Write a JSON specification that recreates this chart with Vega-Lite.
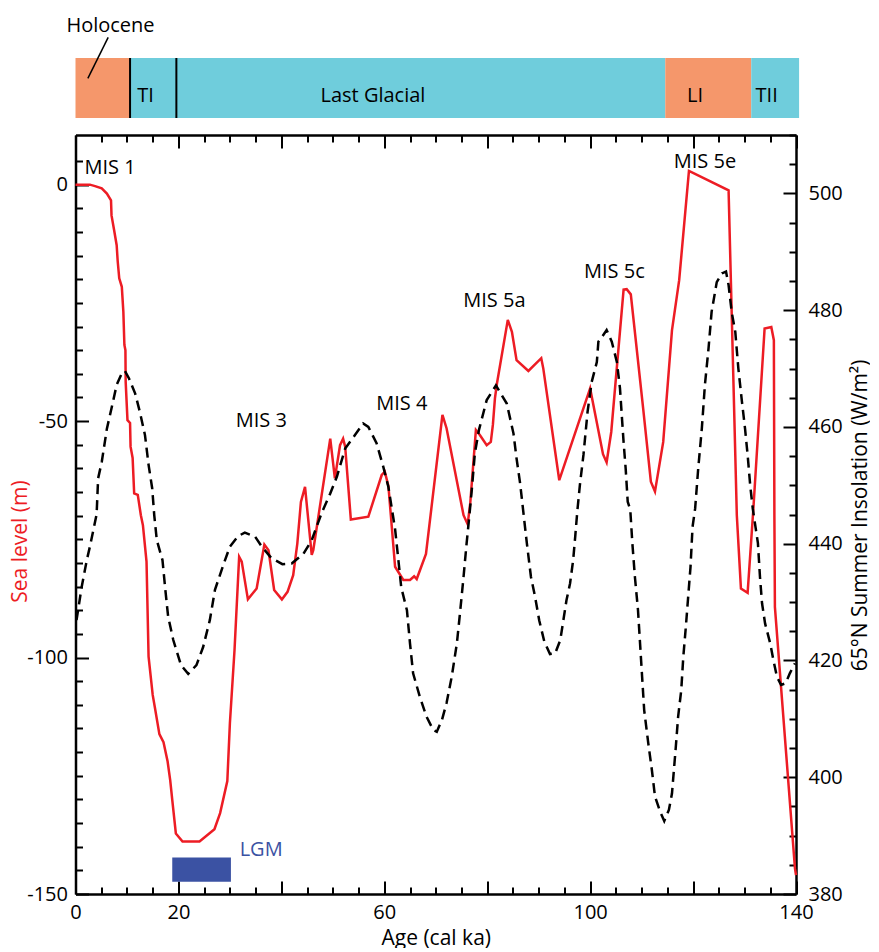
{
  "$schema": "https://vega.github.io/schema/vega-lite/v6.json",
  "padding": {"left": 8.5, "top": 10, "right": 0, "bottom": 0},
  "background": "white",
  "config": {
    "font": "Open Sans",
    "view": {"stroke": null},
    "axis": {"labelFont": "Open Sans", "titleFont": "Open Sans", "labelFontSize": 20, "titleFontSize": 21, "titleFontWeight": "normal", "labelColor": "black", "titleColor": "black", "domainColor": "black", "tickColor": "black", "domainWidth": 2.5, "tickWidth": 2, "grid": false, "labelOverlap": false, "labelFlush": false}
  },
  "bounds": "flush",
  "spacing": 17,
  "datasets": {
    "periods": [
      {"period": "Holocene", "start": 0, "end": 10.6, "phase": "warm"},
      {"period": "TI", "start": 10.6, "end": 19.6, "phase": "cold"},
      {"period": "Last Glacial", "start": 19.6, "end": 114.6, "phase": "cold"},
      {"period": "LI", "start": 114.6, "end": 131.3, "phase": "warm"},
      {"period": "TII", "start": 131.3, "end": 140.6, "phase": "cold"}
    ],
    "periodLabels": [
      {"label": "TI", "age": 13.6},
      {"label": "Last Glacial", "age": 57.8},
      {"label": "LI", "age": 120.4},
      {"label": "TII", "age": 134.3}
    ],
    "boundaries": [{"age": 10.6}, {"age": 19.6}],
    "sea": [
      {"age": 0.0, "sea": 0}, {"age": 2.8, "sea": 0}, {"age": 3.8, "sea": -0.3}, {"age": 5.1, "sea": -0.8},
      {"age": 6.1, "sea": -1.9}, {"age": 6.9, "sea": -3.3}, {"age": 7.0, "sea": -6.5}, {"age": 7.5, "sea": -9.6},
      {"age": 8.0, "sea": -12.8}, {"age": 8.2, "sea": -16.2}, {"age": 8.5, "sea": -19.8}, {"age": 9.0, "sea": -21.6},
      {"age": 9.3, "sea": -26.9}, {"age": 9.5, "sea": -33.9}, {"age": 9.7, "sea": -35.0}, {"age": 9.75, "sea": -41.7},
      {"age": 10.1, "sea": -49.8}, {"age": 10.6, "sea": -50.4}, {"age": 10.7, "sea": -55.4}, {"age": 11.1, "sea": -57.8},
      {"age": 11.4, "sea": -65.3}, {"age": 12.1, "sea": -65.6}, {"age": 12.7, "sea": -69.9}, {"age": 13.1, "sea": -72.0},
      {"age": 13.8, "sea": -79.7}, {"age": 14.2, "sea": -99.8}, {"age": 15.0, "sea": -107.9}, {"age": 15.4, "sea": -110.4},
      {"age": 16.3, "sea": -116.2}, {"age": 17.1, "sea": -117.9}, {"age": 17.9, "sea": -122.0}, {"age": 18.4, "sea": -125.9},
      {"age": 18.8, "sea": -130.1}, {"age": 19.5, "sea": -137.2}, {"age": 20.8, "sea": -138.9}, {"age": 24.1, "sea": -138.9},
      {"age": 27.0, "sea": -136.3}, {"age": 28.1, "sea": -132.9}, {"age": 29.5, "sea": -126.1}, {"age": 30.0, "sea": -113.9},
      {"age": 30.9, "sea": -98.4}, {"age": 31.8, "sea": -78.7}, {"age": 32.3, "sea": -79.7}, {"age": 33.5, "sea": -87.7},
      {"age": 35.2, "sea": -85.4}, {"age": 36.7, "sea": -76.1}, {"age": 37.5, "sea": -77.3}, {"age": 38.6, "sea": -85.7},
      {"age": 40.1, "sea": -87.7}, {"age": 41.2, "sea": -86.1}, {"age": 42.3, "sea": -82.6}, {"age": 43.1, "sea": -75.9},
      {"age": 43.8, "sea": -67.1}, {"age": 44.6, "sea": -63.9}, {"age": 45.9, "sea": -78.3}, {"age": 46.2, "sea": -77.3},
      {"age": 49.5, "sea": -53.7}, {"age": 50.4, "sea": -62.1}, {"age": 51.4, "sea": -55.1}, {"age": 52.0, "sea": -53.7},
      {"age": 52.4, "sea": -55.4}, {"age": 53.5, "sea": -70.8}, {"age": 56.9, "sea": -70.2}, {"age": 59.5, "sea": -61.4},
      {"age": 60.1, "sea": -60.7}, {"age": 60.8, "sea": -63.7}, {"age": 62.1, "sea": -80.8}, {"age": 63.7, "sea": -83.6},
      {"age": 65.0, "sea": -83.6}, {"age": 65.8, "sea": -82.8}, {"age": 66.3, "sea": -83.4}, {"age": 68.1, "sea": -78.1},
      {"age": 71.3, "sea": -48.7}, {"age": 72.1, "sea": -51.5}, {"age": 75.4, "sea": -69.9}, {"age": 76.2, "sea": -71.8},
      {"age": 76.7, "sea": -67.4}, {"age": 77.8, "sea": -51.9}, {"age": 78.6, "sea": -53.0}, {"age": 79.9, "sea": -55.1},
      {"age": 80.7, "sea": -54.4}, {"age": 81.1, "sea": -50.8}, {"age": 81.5, "sea": -45.2}, {"age": 81.9, "sea": -42.0},
      {"age": 84.0, "sea": -28.6}, {"age": 84.8, "sea": -31.1}, {"age": 85.7, "sea": -37.1}, {"age": 88.0, "sea": -39.4},
      {"age": 90.5, "sea": -36.7}, {"age": 90.9, "sea": -38.9}, {"age": 94.0, "sea": -62.5}, {"age": 100.0, "sea": -43.1},
      {"age": 102.5, "sea": -57.0}, {"age": 103.2, "sea": -58.7}, {"age": 104.1, "sea": -52.3}, {"age": 106.5, "sea": -22.2},
      {"age": 107.1, "sea": -22.1}, {"age": 107.9, "sea": -23.2}, {"age": 110.3, "sea": -47.3}, {"age": 111.8, "sea": -62.8},
      {"age": 112.6, "sea": -64.9}, {"age": 114.2, "sea": -54.4}, {"age": 115.9, "sea": -30.8}, {"age": 117.3, "sea": -20.2},
      {"age": 119.2, "sea": 2.9}, {"age": 126.9, "sea": -1.2}, {"age": 128.5, "sea": -69.9}, {"age": 129.3, "sea": -85.4},
      {"age": 130.6, "sea": -86.3}, {"age": 131.7, "sea": -68.8}, {"age": 133.9, "sea": -30.4}, {"age": 135.2, "sea": -30.1},
      {"age": 135.7, "sea": -32.9}, {"age": 135.8, "sea": -69.9}, {"age": 135.9, "sea": -89.3}, {"age": 139.8, "sea": -144.6},
      {"age": 140.0, "sea": -146.0}
    ],
    "insolation": [
      {"age": 0.2, "ins": 426.9}, {"age": 1.2, "ins": 432.6}, {"age": 2.2, "ins": 437.2}, {"age": 2.8, "ins": 439.5},
      {"age": 4.1, "ins": 445.0}, {"age": 4.4, "ins": 451.2}, {"age": 5.1, "ins": 454.0}, {"age": 6.1, "ins": 459.7},
      {"age": 7.0, "ins": 463.2}, {"age": 8.0, "ins": 467.2}, {"age": 9.0, "ins": 469.2}, {"age": 9.6, "ins": 469.6},
      {"age": 10.4, "ins": 468.3}, {"age": 11.6, "ins": 465.7}, {"age": 12.5, "ins": 462.6}, {"age": 13.5, "ins": 458.6},
      {"age": 14.2, "ins": 453.5}, {"age": 14.9, "ins": 449.5}, {"age": 15.3, "ins": 444.9}, {"age": 15.8, "ins": 440.6},
      {"age": 16.9, "ins": 437.2}, {"age": 17.4, "ins": 432.6}, {"age": 18.0, "ins": 427.5}, {"age": 19.0, "ins": 423.5},
      {"age": 20.5, "ins": 419.2}, {"age": 21.9, "ins": 417.7}, {"age": 23.5, "ins": 419.2}, {"age": 24.8, "ins": 422.3},
      {"age": 26.1, "ins": 426.9}, {"age": 27.1, "ins": 432.1}, {"age": 28.7, "ins": 436.3}, {"age": 30.0, "ins": 439.5},
      {"age": 31.6, "ins": 441.3}, {"age": 32.9, "ins": 441.9}, {"age": 34.9, "ins": 441.2}, {"age": 36.2, "ins": 439.5},
      {"age": 38.1, "ins": 437.5}, {"age": 40.2, "ins": 436.5}, {"age": 42.0, "ins": 436.6}, {"age": 44.3, "ins": 438.3},
      {"age": 45.9, "ins": 440.6}, {"age": 47.8, "ins": 445.2}, {"age": 49.5, "ins": 448.6}, {"age": 50.8, "ins": 451.5},
      {"age": 52.4, "ins": 456.3}, {"age": 54.3, "ins": 458.6}, {"age": 55.9, "ins": 460.6}, {"age": 56.9, "ins": 460.0},
      {"age": 58.5, "ins": 457.2}, {"age": 59.8, "ins": 453.2}, {"age": 60.8, "ins": 449.7}, {"age": 62.1, "ins": 442.5},
      {"age": 63.3, "ins": 432.5}, {"age": 64.4, "ins": 428.6}, {"age": 65.0, "ins": 422.9}, {"age": 65.6, "ins": 417.8},
      {"age": 66.9, "ins": 413.8}, {"age": 68.2, "ins": 410.4}, {"age": 69.5, "ins": 408.1}, {"age": 70.2, "ins": 407.8},
      {"age": 71.2, "ins": 409.8}, {"age": 72.1, "ins": 412.7}, {"age": 73.1, "ins": 417.2}, {"age": 74.1, "ins": 422.9},
      {"age": 74.7, "ins": 428.0}, {"age": 75.4, "ins": 434.3}, {"age": 76.0, "ins": 440.1}, {"age": 76.5, "ins": 444.5},
      {"age": 77.0, "ins": 449.2}, {"age": 77.6, "ins": 455.5}, {"age": 78.4, "ins": 459.5}, {"age": 79.9, "ins": 464.6},
      {"age": 81.7, "ins": 467.1}, {"age": 83.8, "ins": 464.0}, {"age": 85.1, "ins": 458.9}, {"age": 85.7, "ins": 454.6},
      {"age": 86.4, "ins": 450.3}, {"age": 87.2, "ins": 444.0}, {"age": 87.7, "ins": 440.1}, {"age": 88.5, "ins": 434.3},
      {"age": 89.3, "ins": 430.9}, {"age": 90.1, "ins": 426.9}, {"age": 91.1, "ins": 423.2}, {"age": 92.2, "ins": 421.1},
      {"age": 93.2, "ins": 421.2}, {"age": 94.2, "ins": 423.5}, {"age": 94.8, "ins": 426.9}, {"age": 95.4, "ins": 430.3},
      {"age": 96.1, "ins": 433.2}, {"age": 96.7, "ins": 437.2}, {"age": 97.1, "ins": 441.2}, {"age": 97.5, "ins": 445.5},
      {"age": 98.0, "ins": 450.0}, {"age": 98.7, "ins": 455.2}, {"age": 99.5, "ins": 462.6}, {"age": 100.3, "ins": 467.7},
      {"age": 101.3, "ins": 471.1}, {"age": 101.6, "ins": 474.6}, {"age": 102.3, "ins": 475.4}, {"age": 103.2, "ins": 476.6},
      {"age": 104.2, "ins": 474.6}, {"age": 105.2, "ins": 471.1}, {"age": 105.8, "ins": 466.6}, {"age": 106.1, "ins": 462.6},
      {"age": 106.5, "ins": 457.4}, {"age": 106.9, "ins": 452.9}, {"age": 107.3, "ins": 447.2}, {"age": 107.8, "ins": 445.8},
      {"age": 108.2, "ins": 440.1}, {"age": 108.7, "ins": 434.3}, {"age": 109.3, "ins": 428.6}, {"age": 109.7, "ins": 422.9},
      {"age": 110.1, "ins": 417.2}, {"age": 110.5, "ins": 411.5}, {"age": 111.3, "ins": 405.8}, {"age": 112.0, "ins": 401.2},
      {"age": 112.6, "ins": 396.7}, {"age": 113.6, "ins": 394.1}, {"age": 114.4, "ins": 392.5}, {"age": 115.3, "ins": 394.4},
      {"age": 115.9, "ins": 397.2}, {"age": 116.6, "ins": 404.7}, {"age": 117.1, "ins": 410.4}, {"age": 117.7, "ins": 414.9},
      {"age": 118.1, "ins": 420.6}, {"age": 118.6, "ins": 425.8}, {"age": 119.1, "ins": 431.5}, {"age": 119.5, "ins": 436.0},
      {"age": 119.9, "ins": 442.9}, {"age": 120.4, "ins": 446.0}, {"age": 121.0, "ins": 452.9}, {"age": 121.7, "ins": 459.7},
      {"age": 122.3, "ins": 467.2}, {"age": 123.0, "ins": 473.4}, {"age": 123.6, "ins": 479.7}, {"age": 124.6, "ins": 484.8},
      {"age": 125.6, "ins": 486.3}, {"age": 126.4, "ins": 486.6}, {"age": 126.9, "ins": 484.3}, {"age": 127.5, "ins": 479.7},
      {"age": 128.2, "ins": 476.3}, {"age": 128.8, "ins": 470.0}, {"age": 129.5, "ins": 464.3}, {"age": 130.1, "ins": 459.7},
      {"age": 130.6, "ins": 455.2}, {"age": 131.1, "ins": 450.0}, {"age": 131.6, "ins": 446.0}, {"age": 132.6, "ins": 440.1},
      {"age": 133.0, "ins": 434.3}, {"age": 133.4, "ins": 429.8}, {"age": 134.0, "ins": 426.3}, {"age": 135.0, "ins": 422.9},
      {"age": 135.6, "ins": 420.1}, {"age": 136.3, "ins": 417.2}, {"age": 137.1, "ins": 415.8}, {"age": 138.0, "ins": 416.1},
      {"age": 138.8, "ins": 417.8}, {"age": 139.8, "ins": 419.5}
    ],
    "mis": [
      {"label": "MIS 1", "age": 6.7, "sea": 2.2},
      {"label": "MIS 3", "age": 36.1, "sea": -51.2},
      {"label": "MIS 4", "age": 63.4, "sea": -47.7},
      {"label": "MIS 5a", "age": 81.4, "sea": -25.8},
      {"label": "MIS 5c", "age": 104.7, "sea": -19.8},
      {"label": "MIS 5e", "age": 122.3, "sea": 3.6}
    ],
    "lgm": [{"label": "LGM", "start": 18.8, "end": 30.2, "top": -142.3, "bottom": -147.4, "labelAge": 31.9, "labelSea": -142.0}]
  },
  "vconcat": [
    {
      "width": 720.5,
      "height": 108,
      "layer": [
        {
          "data": {"name": "periods"},
          "mark": {"type": "rect"},
          "encoding": {
            "x": {"field": "start", "type": "quantitative", "scale": {"domain": [0, 140], "nice": false, "zero": false}, "axis": null},
            "x2": {"field": "end"},
            "y": {"datum": 0, "type": "quantitative", "scale": {"domain": [0, 1.8], "nice": false}, "axis": null},
            "y2": {"datum": 1},
            "color": {"field": "phase", "type": "nominal", "scale": {"domain": ["warm", "cold"], "range": ["#F5976B", "#6FCDDC"]}, "legend": null}
          }
        },
        {
          "data": {"name": "boundaries"},
          "mark": {"type": "rule", "color": "black", "strokeWidth": 2},
          "encoding": {
            "x": {"field": "age", "type": "quantitative", "scale": {"domain": [0, 140], "nice": false, "zero": false}, "axis": null},
            "y": {"datum": 0, "type": "quantitative", "scale": {"domain": [0, 1.8], "nice": false}, "axis": null},
            "y2": {"datum": 1}
          }
        },
        {
          "data": {"name": "periodLabels"},
          "mark": {"type": "text", "fontSize": 20, "baseline": "alphabetic", "align": "center", "color": "black"},
          "encoding": {
            "x": {"field": "age", "type": "quantitative", "scale": {"domain": [0, 140], "nice": false, "zero": false}, "axis": null},
            "y": {"datum": 0.267, "type": "quantitative", "scale": {"domain": [0, 1.8], "nice": false}, "axis": null},
            "text": {"field": "label"}
          }
        },
        {
          "data": {"values": [{"label": "Holocene", "age": 6.8}]},
          "mark": {"type": "text", "fontSize": 20, "baseline": "alphabetic", "align": "center", "color": "black"},
          "encoding": {
            "x": {"field": "age", "type": "quantitative", "scale": {"domain": [0, 140], "nice": false, "zero": false}, "axis": null},
            "y": {"datum": 1.438, "type": "quantitative", "scale": {"domain": [0, 1.8], "nice": false}, "axis": null},
            "text": {"field": "label"}
          }
        },
        {
          "data": {"values": [{"from": 6.35, "to": 2.4}]},
          "mark": {"type": "rule", "color": "black", "strokeWidth": 1.5},
          "encoding": {
            "x": {"field": "from", "type": "quantitative", "scale": {"domain": [0, 140], "nice": false, "zero": false}, "axis": null},
            "x2": {"field": "to"},
            "y": {"datum": 1.345, "type": "quantitative", "scale": {"domain": [0, 1.8], "nice": false}, "axis": null},
            "y2": {"datum": 0.66}
          }
        }
      ]
    },
    {
      "width": 720.5,
      "height": 759,
      "resolve": {"scale": {"y": "independent"}, "axis": {"x": "independent", "y": "independent"}},
      "layer": [
        {
          "data": {"name": "sea"},
          "mark": {"type": "line", "color": "#ED1C24", "strokeWidth": 2.5},
          "encoding": {
            "x": {
              "field": "age", "type": "quantitative",
              "scale": {"domain": [0, 140], "nice": false, "zero": false},
              "axis": {
                "orient": "bottom",
                "values": [0,5,10,15,20,25,30,35,40,45,50,55,60,65,70,75,80,85,90,95,100,105,110,115,120,125,130,135,140],
                "tickSize": {"condition": {"test": "datum.value % 20 === 0", "value": -13}, "value": -7},
                "labelPadding": 21,
                "labelExpr": "indexof([0,20,60,100,140], datum.value) >= 0 ? datum.label : ''",
                "title": "Age (cal ka)",
                "titleY": 50,
                "titleBaseline": "alphabetic"
              }
            },
            "y": {
              "field": "sea", "type": "quantitative",
              "scale": {"domain": [-150, 10.5], "nice": false, "zero": false},
              "axis": {
                "orient": "left",
                "values": [-150,-145,-140,-135,-130,-125,-120,-115,-110,-105,-100,-95,-90,-85,-80,-75,-70,-65,-60,-55,-50,-45,-40,-35,-30,-25,-20,-15,-10,-5,0,5],
                "tickSize": {"condition": {"test": "datum.value % 50 === 0", "value": -13}, "value": -7},
                "labelPadding": 21,
                "labelExpr": "datum.value % 50 === 0 ? '' + datum.value : ''",
                "title": "Sea level (m)",
                "titleColor": "#ED1C24",
                "titleAngle": -90,
                "titleAlign": "center",
                "titleBaseline": "alphabetic",
                "titleX": -49.5,
                "titleY": 406
              }
            }
          }
        },
        {
          "data": {"name": "insolation"},
          "mark": {"type": "line", "color": "black", "strokeWidth": 2.5, "strokeDash": [10, 6]},
          "encoding": {
            "x": {
              "field": "age", "type": "quantitative",
              "scale": {"domain": [0, 140], "nice": false, "zero": false},
              "axis": {
                "orient": "top",
                "values": [0,5,10,15,20,25,30,35,40,45,50,55,60,65,70,75,80,85,90,95,100,105,110,115,120,125,130,135,140],
                "tickSize": {"condition": {"test": "datum.value % 20 === 0", "value": -13}, "value": -7},
                "labels": false,
                "title": null
              }
            },
            "y": {
              "field": "ins", "type": "quantitative",
              "scale": {"domain": [380, 510], "nice": false, "zero": false},
              "axis": {
                "orient": "right",
                "values": [380,385,390,395,400,405,410,415,420,425,430,435,440,445,450,455,460,465,470,475,480,485,490,495,500,505,510],
                "tickSize": {"condition": {"test": "datum.value % 20 === 0", "value": -13}, "value": -7},
                "labelPadding": 25,
                "labelExpr": "datum.value % 20 === 0 ? datum.label : ''",
                "title": "65°N Summer Insolation (W/m²)",
                "titleAngle": -90,
                "titleAlign": "center",
                "titleBaseline": "alphabetic",
                "titleX": 70,
                "titleY": 380
              }
            }
          }
        },
        {
          "data": {"name": "lgm"},
          "mark": {"type": "rect", "color": "#3B52A3"},
          "encoding": {
            "x": {"field": "start", "type": "quantitative", "scale": {"domain": [0, 140], "nice": false, "zero": false}, "axis": null},
            "x2": {"field": "end"},
            "y": {"field": "top", "type": "quantitative", "scale": {"domain": [-150, 10.5], "nice": false, "zero": false}, "axis": null},
            "y2": {"field": "bottom"}
          }
        },
        {
          "data": {"name": "lgm"},
          "mark": {"type": "text", "color": "#3B52A3", "fontSize": 20, "align": "left", "baseline": "alphabetic"},
          "encoding": {
            "x": {"field": "labelAge", "type": "quantitative", "scale": {"domain": [0, 140], "nice": false, "zero": false}, "axis": null},
            "y": {"field": "labelSea", "type": "quantitative", "scale": {"domain": [-150, 10.5], "nice": false, "zero": false}, "axis": null},
            "text": {"field": "label"}
          }
        },
        {
          "data": {"name": "mis"},
          "mark": {"type": "text", "color": "black", "fontSize": 20, "align": "center", "baseline": "alphabetic"},
          "encoding": {
            "x": {"field": "age", "type": "quantitative", "scale": {"domain": [0, 140], "nice": false, "zero": false}, "axis": null},
            "y": {"field": "sea", "type": "quantitative", "scale": {"domain": [-150, 10.5], "nice": false, "zero": false}, "axis": null},
            "text": {"field": "label"}
          }
        }
      ]
    }
  ]
}
